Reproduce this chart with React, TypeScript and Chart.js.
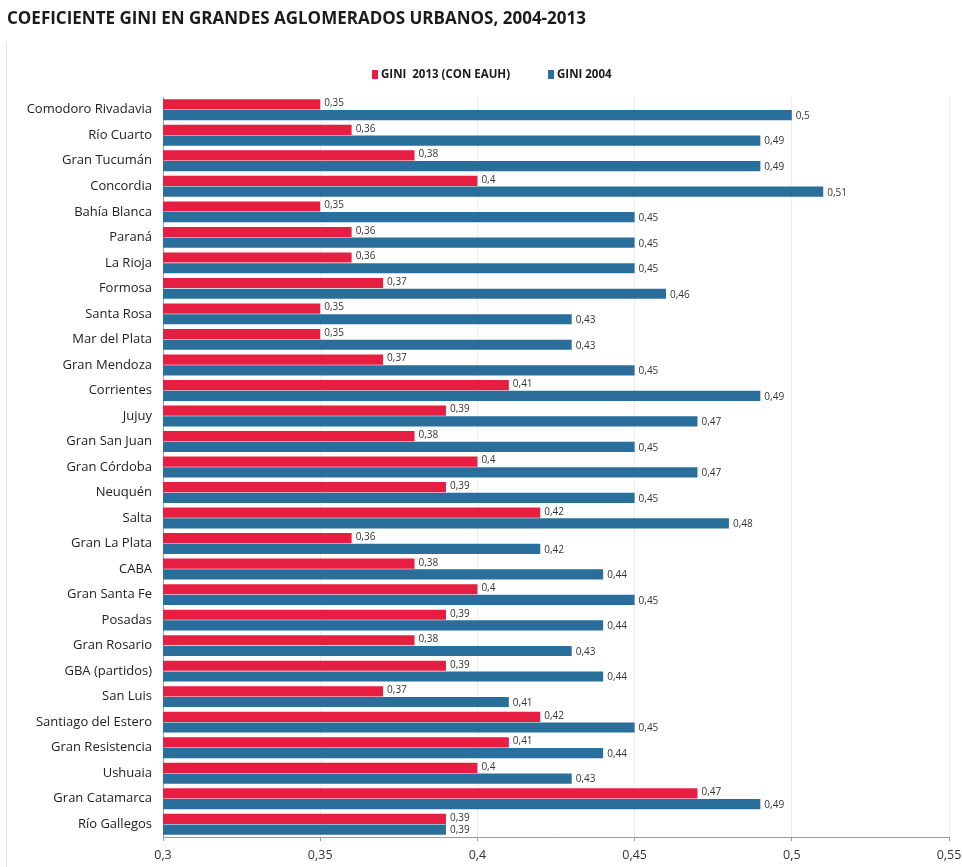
import React, { useEffect, useRef } from "react";
import { Chart, registerables } from "chart.js";

Chart.register(...registerables);

const TITLE = "COEFICIENTE GINI EN GRANDES AGLOMERADOS URBANOS, 2004-2013";

const categories = [
  "Comodoro Rivadavia", "Río Cuarto", "Gran Tucumán", "Concordia", "Bahía Blanca",
  "Paraná", "La Rioja", "Formosa", "Santa Rosa", "Mar del Plata", "Gran Mendoza",
  "Corrientes", "Jujuy", "Gran San Juan", "Gran Córdoba", "Neuquén", "Salta",
  "Gran La Plata", "CABA", "Gran Santa Fe", "Posadas", "Gran Rosario",
  "GBA (partidos)", "San Luis", "Santiago del Estero", "Gran Resistencia",
  "Ushuaia", "Gran Catamarca", "Río Gallegos",
];

const gini2013 = [
  0.35, 0.36, 0.38, 0.4, 0.35, 0.36, 0.36, 0.37, 0.35, 0.35, 0.37, 0.41, 0.39,
  0.38, 0.4, 0.39, 0.42, 0.36, 0.38, 0.4, 0.39, 0.38, 0.39, 0.37, 0.42, 0.41,
  0.4, 0.47, 0.39,
];

const gini2004 = [
  0.5, 0.49, 0.49, 0.51, 0.45, 0.45, 0.45, 0.46, 0.43, 0.43, 0.45, 0.49, 0.47,
  0.45, 0.47, 0.45, 0.48, 0.42, 0.44, 0.45, 0.44, 0.43, 0.44, 0.41, 0.45, 0.44,
  0.43, 0.49, 0.39,
];

const xTicks = [0.3, 0.35, 0.4, 0.45, 0.5, 0.55];

const seriesLabels = ["GINI  2013 (CON EAUH)", "GINI 2004"];
const RED = "#E61E42";
const BLUE = "#2A6E9C";

const fmt = (v: number) => String(v).replace(".", ",");

const decorPlugin = {
  id: "decor",
  afterDraw(chart: any) {
    const ctx = chart.ctx;
    ctx.save();
    // faint frame
    ctx.strokeStyle = "#e6e6e6";
    ctx.lineWidth = 1;
    ctx.beginPath();
    ctx.moveTo(6.5, 42);
    ctx.lineTo(6.5, 867);
    ctx.stroke();

    // title
    ctx.fillStyle = "#1b1b1b";
    ctx.font = "bold 17px 'Open Sans'";
    ctx.textBaseline = "middle";
    ctx.textAlign = "left";
    ctx.fillText(TITLE, 7, 19);

    // legend
    ctx.font = "bold 11.5px 'Open Sans'";
    const colors = [RED, BLUE];
    const xs = [372, 548];
    chart.data.datasets.forEach((ds: any, i: number) => {
      ctx.fillStyle = colors[i];
      ctx.fillRect(xs[i], 70, 6, 9);
      ctx.fillStyle = "#1b1b1b";
      ctx.fillText(ds.label, xs[i] + 9, 75);
    });

    // data labels
    ctx.font = "10px 'Open Sans'";
    ctx.fillStyle = "#333";
    ctx.textBaseline = "middle";
    chart.data.datasets.forEach((ds: any, di: number) => {
      const meta = chart.getDatasetMeta(di);
      meta.data.forEach((el: any, i: number) => {
        const v = ds.data[i];
        ctx.fillText(fmt(v), el.x + 4, el.y + (di === 0 ? -1 : 1));
      });
    });
    ctx.restore();
  },
};

export default function App() {
  const ref = useRef<HTMLCanvasElement>(null);
  useEffect(() => {
    document.body.style.margin = "0";
    const chart = new Chart(ref.current as HTMLCanvasElement, {
      type: "bar",
      data: {
        labels: categories,
        datasets: [
          {
            label: seriesLabels[0],
            data: gini2013,
            backgroundColor: RED,
            categoryPercentage: 0.84,
            barPercentage: 0.95,
          },
          {
            label: seriesLabels[1],
            data: gini2004,
            backgroundColor: BLUE,
            categoryPercentage: 0.84,
            barPercentage: 0.95,
          },
        ],
      },
      options: {
        indexAxis: "y",
        animation: false,
        responsive: false,
        devicePixelRatio: 1,
        layout: { padding: { left: 0, right: 13, top: 97, bottom: 0 } },
        plugins: {
          legend: { display: false },
          title: { display: false },
          tooltip: { enabled: false },
        },
        scales: {
          x: {
            type: "linear",
            min: 0.3,
            max: 0.55,
            afterBuildTicks: (scale: any) => {
              scale.ticks = xTicks.map((v) => ({ value: v }));
            },
            afterFit: (scale: any) => {
              scale.height = 30;
              scale.paddingRight = 0;
              scale.paddingLeft = 0;
            },
            ticks: {
              callback: (v: any) => fmt(Number(v)),
              font: { family: "'Open Sans'", size: 12.5 },
              color: "#333",
              padding: 7,
            },
            grid: {
              color: "#ececec",
              tickColor: "#999",
              tickLength: 4,
            },
            border: { color: "#9a9a9a" },
          },
          y: {
            afterFit: (scale: any) => {
              scale.width = 163;
            },
            ticks: {
              font: { family: "'Open Sans'", size: 13 },
              color: "#222",
              padding: 11,
              autoSkip: false,
            },
            grid: { display: false, drawTicks: false },
            border: { color: "#9a9a9a" },
          },
        },
      },
      plugins: [decorPlugin],
    } as any);
    return () => chart.destroy();
  }, []);
  return <canvas ref={ref} width={962} height={867} style={{ display: "block" }} />;
}
